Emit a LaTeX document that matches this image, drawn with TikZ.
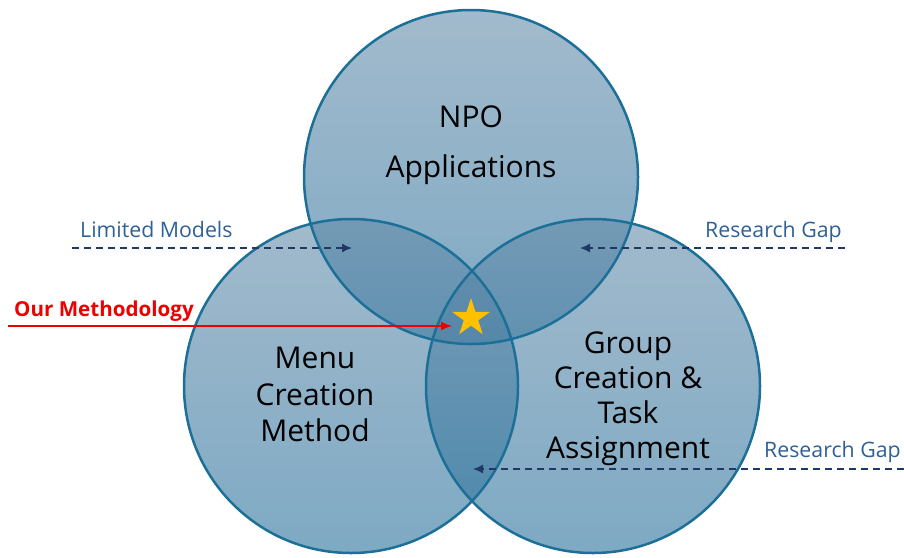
\documentclass[tikz,border=0pt]{standalone}
\usepackage{fontspec}
\setmainfont{Open Sans}
\usetikzlibrary{arrows.meta,shapes.geometric}

\definecolor{ringedge}{RGB}{28,112,152}
\definecolor{ringtop}{RGB}{100,140,170}
\definecolor{ringbot}{RGB}{40,112,156}
\definecolor{gaptext}{RGB}{46,96,152}
\definecolor{gapline}{RGB}{31,56,100}
\definecolor{ourred}{RGB}{238,0,0}
\definecolor{stargold}{RGB}{255,192,0}

\begin{document}
\begin{tikzpicture}[x=1pt,y=-1pt,
  ringfill/.style={top color=ringtop,bottom color=ringbot,fill opacity=0.6,draw=none},
  ringline/.style={draw=ringedge,line width=2.5pt},
  bigtext/.style={anchor=base,inner sep=0pt,font=\fontsize{30}{36}\selectfont,text=black},
  gaplabel/.style={inner sep=0pt,font=\fontsize{21.3}{25}\selectfont,text=gaptext},
  gaparrow/.style={draw=gapline,line width=1.5pt,dash pattern=on 7pt off 5pt,-{Latex[length=10pt,width=9pt]}},
  redarrow/.style={draw=ourred,line width=1.5pt,-{Latex[length=11pt,width=9pt]}}]

\useasboundingbox (0,0) rectangle (904,557);

% circle centres
\coordinate (ctop) at (471,177);
\coordinate (cleft) at (351,386);
\coordinate (cright) at (593,386);

% translucent shaded discs
\shade[ringfill] (ctop) circle[radius=167];
\shade[ringfill] (cleft) circle[radius=167];
\shade[ringfill] (cright) circle[radius=167];

% outlines on top
\draw[ringline] (ctop) circle[radius=167];
\draw[ringline] (cleft) circle[radius=167];
\draw[ringline] (cright) circle[radius=167];

% circle titles
\node[bigtext] (npo1) at (471,127) {NPO};
\node[bigtext] (npo2) at (471,177) {Applications};

\node[bigtext] (menu1) at (315,368) {Menu};
\node[bigtext] (menu2) at (315,405) {Creation};
\node[bigtext] (menu3) at (315,441) {Method};

\node[bigtext] (grp1) at (628,353) {Group};
\node[bigtext] (grp2) at (628,388) {Creation \&};
\node[bigtext] (grp3) at (628,423) {Task};
\node[bigtext] (grp4) at (628,458) {Assignment};

% star at the triple overlap
\node[star,star points=5,star point ratio=2.618,fill=stargold,draw=none,
      minimum size=40pt,inner sep=0pt] (ours) at (471,318) {};

% side labels
\node[gaplabel,anchor=base west] (lim) at (80,237) {Limited Models};
\node[gaplabel,anchor=base west] (gap1) at (705,237) {Research Gap};
\node[gaplabel,anchor=base west] (gap2) at (764,457) {Research Gap};
\node[gaplabel,anchor=base west,text=ourred,font=\fontsize{20.6}{24}\selectfont\bfseries] (meth) at (14,316) {Our Methodology};

% arrow end points
\coordinate (limA) at (72,248);
\coordinate (limB) at (352,248);
\coordinate (gap1A) at (845,248);
\coordinate (gap1B) at (580,248);
\coordinate (gap2A) at (904,469);
\coordinate (gap2B) at (473,469);
\coordinate (methA) at (8,326);
\coordinate (methB) at (452,326);

\draw[gaparrow] (limA) -- (limB);
\draw[gaparrow] (gap1A) -- (gap1B);
\draw[gaparrow] (gap2A) -- (gap2B);
\draw[redarrow] (methA) -- (methB);

\end{tikzpicture}
\end{document}
